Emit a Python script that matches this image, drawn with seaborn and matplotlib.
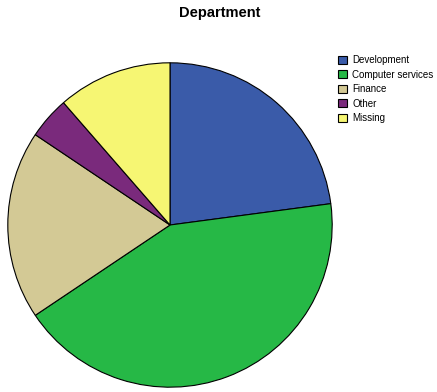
import matplotlib
matplotlib.use("Agg")
import matplotlib.pyplot as plt
import seaborn as sns
from matplotlib.patches import Patch

# Data
departments = ["Development", "Computer services", "Finance", "Other", "Missing"]
shares = [22.9, 42.7, 18.8, 4.2, 11.4]
colors = ["#3a5ba9", "#26b846", "#d3c995", "#7a2a7c", "#f6f673"]

sns.set_style("white")
plt.rcParams["font.family"] = ["Liberation Sans", "DejaVu Sans"]
plt.rcParams["text.color"] = "black"
palette = sns.color_palette(colors)

fig = plt.figure(figsize=(4.37, 3.92), dpi=100)
ax = fig.add_axes([7 / 437, 4 / 392, 326 / 437, 326 / 392])
ax.pie(shares, colors=palette, startangle=90, counterclock=False, radius=1,
       wedgeprops=dict(edgecolor="black", linewidth=0.8))
ax.set_xlim(-1.005, 1.005)
ax.set_ylim(-1.005, 1.005)
ax.set_aspect("auto")
ax.axis("off")

fig.text(0.503, 0.968, "Department", ha="center", va="center",
         fontsize=10.5, fontweight="bold", color="black")

handles = [Patch(facecolor=c, edgecolor="black", linewidth=0.8) for c in palette]
fig.legend(handles, departments, loc="upper left", bbox_to_anchor=(0.762, 0.871),
           frameon=False, fontsize=7, handlelength=0.9, handleheight=0.9,
           handletextpad=0.6, labelspacing=0.45, borderpad=0, labelcolor="black")

fig.savefig("out.png", dpi=100)
